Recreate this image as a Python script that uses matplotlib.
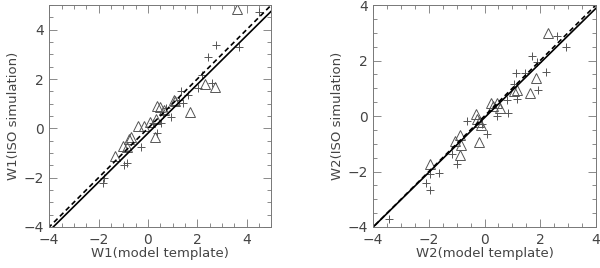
import matplotlib
matplotlib.use("Agg")
import matplotlib.pyplot as plt
from matplotlib.ticker import MultipleLocator

# W1 panel
w1_tri_x = [3.62, 2.71, 2.33, 1.71, 1.05, 1.1, 0.39, 0.5, 0.67, 0.29, 0.33, 0.1, -0.15,
            -0.38, -0.69, -0.76, -1.0, -0.86, -1.35]
w1_tri_y = [4.85, 1.66, 1.79, 0.67, 1.17, 1.1, 0.9, 0.85, 0.74, -0.34, 0.4, 0.27, 0.09,
            0.11, -0.34, -0.42, -0.7, -0.74, -1.12]
w1_crs_x = [4.52, 3.69, 2.75, 2.44, 2.03, 2.6, 1.35, 1.62, 1.28, 1.41, 0.94, 0.73, 0.53,
            0.19, 0.39, -0.29, -0.83, -0.97, -1.76, -1.81, 0.6, 2.2]
w1_crs_y = [4.71, 3.3, 3.39, 2.9, 1.62, 1.82, 1.52, 1.35, 1.14, 1.01, 0.47, 0.81, 0.2,
            0.2, -0.2, -0.74, -1.41, -1.48, -2.02, -2.2, 0.6, 2.15]

# W2 panel
w2_tri_x = [2.28, 1.63, 1.84, 1.18, 1.06, 0.24, 0.55, 0.46, 0.3, -0.32, -0.26, -0.2,
            -0.14, -0.18, -0.89, -1.05, -0.86, -0.89, -1.95]
w2_tri_y = [2.99, 0.82, 1.37, 0.94, 0.92, 0.48, 0.29, 0.46, 0.35, 0.07, -0.11, -0.23,
            -0.31, -0.95, -0.69, -0.89, -1.04, -1.4, -1.73]
w2_crs_x = [2.62, 2.94, 1.69, 1.9, 1.45, 1.12, 2.2, 1.93, 1.18, 0.82, 0.84, 0.46, 0.1,
            -0.08, -0.62, -1.17, -0.98, -1.65, -1.95, -2.09, -1.95, -3.43, 1.06]
w2_crs_y = [2.87, 2.5, 2.18, 1.94, 1.54, 1.54, 1.58, 0.94, 0.61, 0.58, 0.1, 0.01, -0.63,
            -0.29, -0.17, -1.37, -1.73, -2.04, -2.1, -2.4, -2.67, -3.72, 1.16]

# solid fit lines (slope, intercept); dashed is one-to-one
w1_fit = (0.99, -0.2)
w2_fit = (0.985, -0.06)

gray = "#555555"
txt = "#444444"

fig = plt.figure(figsize=(6, 2.68), dpi=100)
ax1 = fig.add_axes([0.082, 0.153, 0.37, 0.828])
ax2 = fig.add_axes([0.622, 0.153, 0.371, 0.828])

panels = [
    (ax1, w1_tri_x, w1_tri_y, w1_crs_x, w1_crs_y, w1_fit, (-4, 5), "W1"),
    (ax2, w2_tri_x, w2_tri_y, w2_crs_x, w2_crs_y, w2_fit, (-4, 4), "W2"),
]

for ax, tx, ty, cx, cy, fit, lim, name in panels:
    ax.plot(cx, cy, "+", color=gray, ms=6, mew=0.7)
    ax.plot(tx, ty, "^", mfc="none", mec=gray, ms=7, mew=0.7)
    xs = [lim[0] - 1, lim[1] + 1]
    ax.plot(xs, [fit[0] * v + fit[1] for v in xs], color="black", lw=1.2)
    ax.plot(xs, xs, color="black", lw=1.2, ls=(0, (3, 2)))
    ax.set_xlim(lim)
    ax.set_ylim(lim)
    ax.xaxis.set_major_locator(MultipleLocator(2))
    ax.yaxis.set_major_locator(MultipleLocator(2))
    ax.xaxis.set_minor_locator(MultipleLocator(0.5))
    ax.yaxis.set_minor_locator(MultipleLocator(0.5))
    ax.tick_params(which="both", direction="in", top=True, right=True,
                   colors="#777777", labelcolor=txt, labelsize=10, width=0.6)
    ax.tick_params(which="major", length=6, pad=4)
    ax.tick_params(which="minor", length=3)
    for s in ax.spines.values():
        s.set_color("#777777")
        s.set_linewidth(0.7)
    ax.set_xlabel(name + "(model template)", color=txt, fontsize=9.5, labelpad=0)
    ax.set_ylabel(name + "(ISO simulation)", color=txt, fontsize=9.5, labelpad=2)

fig.savefig("out.png", dpi=100)
